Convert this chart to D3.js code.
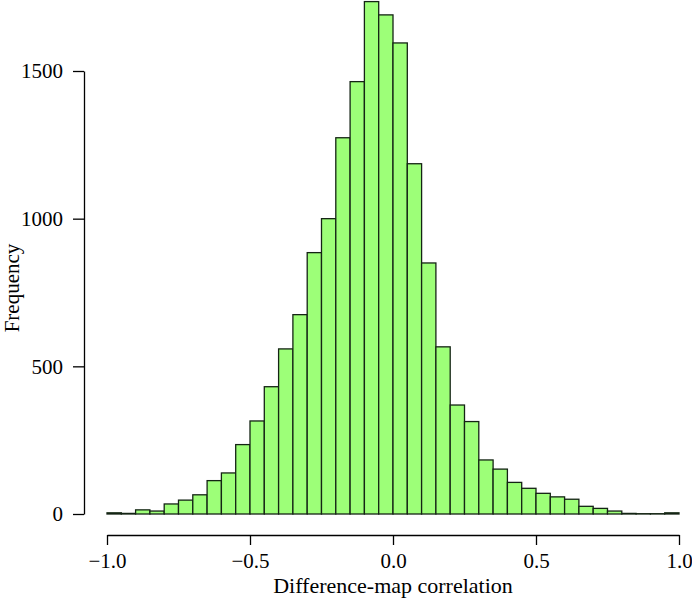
<!DOCTYPE html>
<html>
<head>
<meta charset="utf-8">
<script src="https://cdn.jsdelivr.net/npm/d3@7"></script>
<style>
	body { margin: 0; background: #fff; }
	svg { display: block; font-family: "Liberation Serif", "DejaVu Serif", serif; }
</style>
</head>
<body>
<svg width="692" height="600"></svg>
<script>
// histogram bins of width 0.05 from -1 to 1
var binStart = -1.0,
	binWidth = 0.05;
var counts = [4, 2, 14, 10, 34, 47, 65, 113, 139, 235,
	315, 431, 559, 675, 885, 1000, 1274, 1464, 1735, 1690,
	1595, 1186, 850, 566, 369, 313, 183, 152, 107, 87,
	70, 58, 50, 26, 19, 10, 2, 1, 1, 4];
var xTicks = [-1.0, -0.5, 0.0, 0.5, 1.0];
var yTicks = [0, 500, 1000, 1500];

var svg = d3.select("svg");

var x = d3.scaleLinear()
	.domain([-1, 1])
	.range([107, 679]);

var y = d3.scaleLinear()
	.domain([0, 1500])
	.range([514, 71]);

var bins = counts.map(function (c, i) {
	return { x0: binStart + i * binWidth, x1: binStart + (i + 1) * binWidth, n: c };
});

svg.append("g")
	.selectAll("rect")
	.data(bins)
	.enter().append("rect")
	.attr("x", function (d) { return x(d.x0); })
	.attr("y", function (d) { return y(d.n); })
	.attr("width", function (d) { return x(d.x1) - x(d.x0); })
	.attr("height", function (d) { return y(0) - y(d.n); })
	.attr("fill", "#9dff78")
	.attr("stroke", "#142414")
	.attr("stroke-width", 1.3);

var xAxis = svg.append("g")
	.attr("transform", "translate(0,535)")
	.call(d3.axisBottom(x).tickValues(xTicks).tickFormat(d3.format(".1f")).tickSize(10).tickSizeOuter(0).tickPadding(8));

var yAxis = svg.append("g")
	.attr("transform", "translate(84,0)")
	.call(d3.axisLeft(y).tickValues(yTicks).tickFormat(d3.format("d")).tickSize(11).tickSizeOuter(0).tickPadding(10));

[xAxis, yAxis].forEach(function (a) {
	a.attr("font-family", null).attr("font-size", 21);
	a.selectAll("path, line").attr("stroke", "#000").attr("stroke-width", 1.3);
	a.selectAll("text").attr("fill", "#000");
});

svg.append("text")
	.attr("x", 393)
	.attr("y", 593)
	.attr("text-anchor", "middle")
	.attr("font-size", 22)
	.text("Difference-map correlation");

svg.append("text")
	.attr("transform", "translate(19,288) rotate(-90)")
	.attr("text-anchor", "middle")
	.attr("font-size", 21)
	.text("Frequency");
</script>
</body>
</html>
